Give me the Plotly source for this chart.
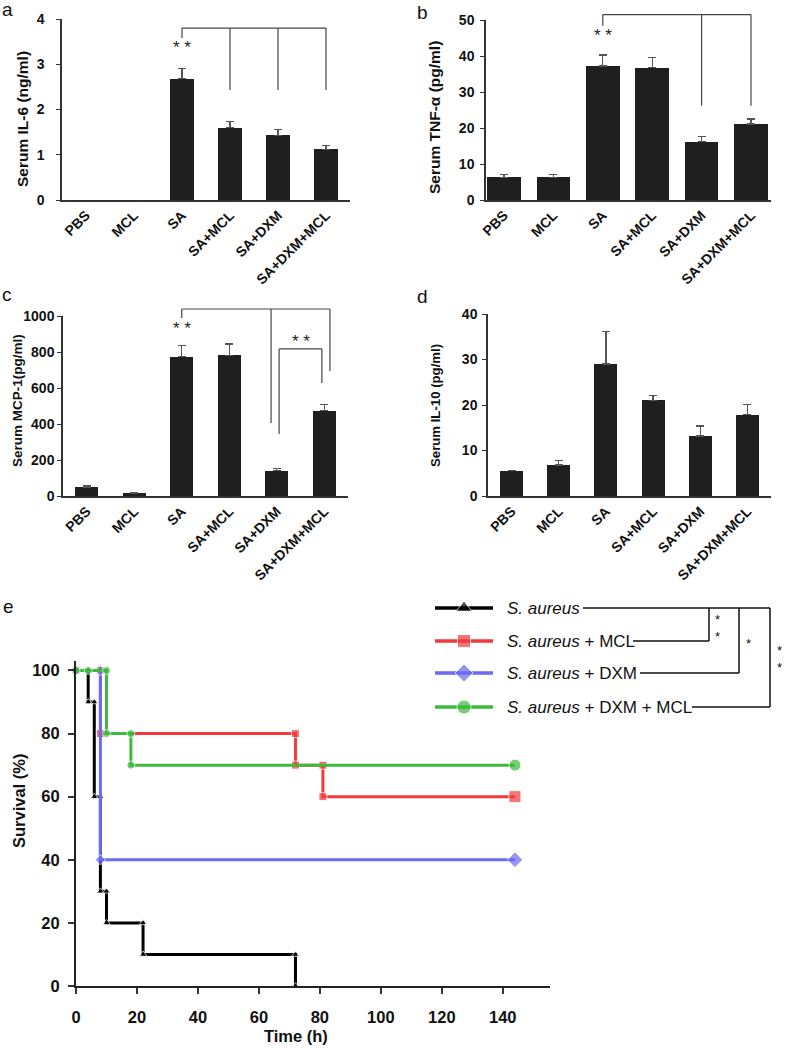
import plotly.graph_objects as go

W, H = 787, 1049
FONT = "Liberation Sans, Arial, sans-serif"

# ---------------- data ----------------
categories = ["PBS", "MCL", "SA", "SA+MCL", "SA+DXM", "SA+DXM+MCL"]

il6_mean = [None, None, 2.68, 1.60, 1.43, 1.12]   # not detected in PBS / MCL
il6_err = [None, None, 0.22, 0.13, 0.13, 0.08]

tnf_mean = [6.3, 6.3, 37.2, 36.8, 16.2, 21.1]
tnf_err = [0.7, 0.7, 3.1, 2.8, 1.4, 1.4]

mcp1_mean = [50, 17, 774, 781, 141, 475]
mcp1_err = [8, None, 61, 63, 13, 33]

il10_mean = [5.6, 6.8, 29.0, 21.0, 13.2, 17.9]
il10_err = [None, 1.0, 7.2, 1.1, 2.2, 2.2]

# Kaplan-Meier step vertices (time h, survival %)
sa_t = [0, 4, 4, 6, 6, 8, 8, 10, 10, 22, 22, 72, 72]
sa_s = [100, 100, 90, 90, 60, 60, 30, 30, 20, 20, 10, 10, 0]
mcl_t = [0, 8, 8, 72, 72, 81, 81, 144]
mcl_s = [100, 100, 80, 80, 70, 70, 60, 60]
dxm_t = [0, 8, 8, 144]
dxm_s = [100, 100, 40, 40]
dxmmcl_t = [0, 4, 10, 10, 18, 18, 144]
dxmmcl_s = [100, 100, 100, 80, 80, 70, 70]

series_names = ["S. aureus", "S. aureus + MCL", "S. aureus + DXM", "S. aureus + DXM + MCL"]
series_colors = ["#000000", "#f23a3a", "#6a6af5", "#3cba3c"]
series_symbols = ["triangle-up", "square", "diamond", "circle"]

# ---------------- layout geometry (pixels) ----------------
panels = {
    "a": dict(l=62, r=350, t=19, b=200, xr=[-0.5, 5.5], yr=[0, 4], dt=1, so=9),
    "b": dict(l=486, r=771, t=20, b=200, xr=[-0.364, 5.405], yr=[0, 50], dt=10, so=3),
    "c": dict(l=63, r=348, t=316, b=496, xr=[-0.5, 5.5], yr=[0, 1000], dt=200, so=0),
    "d": dict(l=488, r=771, t=314, b=496, xr=[-0.5, 5.5], yr=[0, 40], dt=10, so=2),
    "e": dict(l=76, r=550, t=661, b=986, xr=[0, 155.5], yr=[0, 103], dt=20, so=5),
}
LEG = dict(l=420, r=787, t=590, b=725)


def dom(p):
    return [p["l"] / W, p["r"] / W], [1 - p["b"] / H, 1 - p["t"] / H]


def to_paper(p, x, y):
    xp = p["l"] + (x - p["xr"][0]) / (p["xr"][1] - p["xr"][0]) * (p["r"] - p["l"])
    yp = p["b"] - (y - p["yr"][0]) / (p["yr"][1] - p["yr"][0]) * (p["b"] - p["t"])
    return xp / W, 1 - yp / H


def note(x, y, text, size, xanchor="center", **kw):
    d = dict(x=x, y=y, xref="paper", yref="paper", text=text, showarrow=False,
             xanchor=xanchor, yanchor="middle",
             font=dict(family=FONT, size=size, color=kw.pop("color", "#111")))
    d.update(kw)
    return d


fig = go.Figure()
shapes = []
annotations = []

bar_specs = [
    ("a", "", il6_mean, il6_err, 0.50, "Serum IL-6 (ng/ml)", 15.5, 22, 119),
    ("b", "2", tnf_mean, tnf_err, 0.68, "Serum TNF-α (pg/ml)", 15.5, 435, 118),
    ("c", "3", mcp1_mean, mcp1_err, 0.48, "Serum MCP-1(pg/ml)", 13.5, 17, 401),
    ("d", "4", il10_mean, il10_err, 0.49, "Serum IL-10 (pg/ml)", 13.2, 435, 406),
]

for key, n, mean, err, bw, title, tsize, tx, ty in bar_specs:
    p = panels[key]
    fig.add_trace(go.Bar(
        x=categories, y=mean, width=bw,
        marker=dict(color="#1f1f1f", line=dict(width=0)),
        error_y=dict(type="data", symmetric=False, array=err,
                     arrayminus=[0] * len(err), color="#555555",
                     thickness=1.3, width=4),
        xaxis="x" + n, yaxis="y" + n, showlegend=False,
    ))
    xd, yd = dom(p)
    yt = list(range(p["yr"][0], p["yr"][1] + 1, p["dt"]))
    fig.update_layout(**{
        "xaxis" + n: dict(domain=xd, anchor="y" + n, type="category",
                          range=p["xr"], showline=True, linecolor="#333333",
                          linewidth=1.5, ticks="", tickangle=-45, automargin=False,
                          tickfont=dict(family=FONT, size=14, color="#111", weight="bold"),
                          showgrid=False, zeroline=False, fixedrange=True),
        "yaxis" + n: dict(domain=yd, anchor="x" + n, range=p["yr"],
                          tickvals=yt, showline=True, linecolor="#333333",
                          linewidth=1.5, ticks="outside", ticklen=4,
                          tickwidth=1.2, tickcolor="#333333", automargin=False,
                          ticklabelstandoff=p["so"],
                          tickfont=dict(family=FONT, size=14, color="#111", weight="bold"),
                          showgrid=False, zeroline=False, fixedrange=True),
    })
    annotations.append(note(tx / W, 1 - ty / H, "<b>" + title + "</b>", tsize, textangle=-90))

# significance brackets (data coordinates, converted to paper)
brackets = {
    "a": dict(top=3.8, legs=[(2, 3.58), (3, 2.43), (4, 2.43), (5, 2.43)]),
    "b": dict(top=51.5, legs=[(2, 48.4), (4, 26.2), (5, 26.2)]),
    "c": dict(top=1039, legs=[(2, 989), (3.88, 405), (5.12, 694)]),
}
inner_c = dict(top=817, legs=[(4.05, 344), (4.95, 628)])
stars = [("a", 2, 3.36), ("b", 2, 45.8), ("c", 2, 928), ("c", 4.5, 856)]

LINE = dict(color="#444444", width=1.2)


def add_bracket(p, br):
    xs = [lg[0] for lg in br["legs"]]
    x0, y0 = to_paper(p, min(xs), br["top"])
    x1, _ = to_paper(p, max(xs), br["top"])
    shapes.append(dict(type="line", xref="paper", yref="paper", x0=x0, y0=y0, x1=x1, y1=y0, line=LINE))
    for lx, ly in br["legs"]:
        ax, ay = to_paper(p, lx, br["top"])
        bx, by = to_paper(p, lx, ly)
        shapes.append(dict(type="line", xref="paper", yref="paper", x0=ax, y0=ay, x1=bx, y1=by, line=LINE))


for k, br in brackets.items():
    add_bracket(panels[k], br)
add_bracket(panels["c"], inner_c)

for k, sx, sy in stars:
    xp, yp = to_paper(panels[k], sx, sy)
    annotations.append(note(xp, yp, "* *", 17, color="#222"))

# ---------------- survival panel ----------------
pe = panels["e"]
surv = [(sa_t, sa_s), (mcl_t, mcl_s), (dxm_t, dxm_s), (dxmmcl_t, dxmmcl_s)]
msizes = [7, 8, 8, 8]
for (t, s), name, col, sym, ms in zip(surv, series_names, series_colors, series_symbols, msizes):
    sizes = [ms] * (len(t) - 1) + [ms + 4 if s[-1] > 0 else ms]
    fig.add_trace(go.Scatter(
        x=t, y=s, mode="lines+markers", name=name,
        line=dict(color=col, width=3),
        marker=dict(symbol=sym, size=sizes, color=col),
        xaxis="x5", yaxis="y5", showlegend=False, cliponaxis=False,
    ))

xd, yd = dom(pe)
fig.update_layout(
    xaxis5=dict(domain=xd, anchor="y5", range=pe["xr"], tickvals=list(range(0, 141, 20)),
                showline=True, linecolor="#222", linewidth=2, ticks="outside", ticklen=6,
                tickwidth=1.5, tickcolor="#333", ticklabelstandoff=9, automargin=False,
                tickfont=dict(family=FONT, size=16.5, color="#111", weight="bold"),
                showgrid=False, zeroline=False, fixedrange=True),
    yaxis5=dict(domain=yd, anchor="x5", range=pe["yr"], tickvals=list(range(0, 101, 20)),
                showline=True, linecolor="#222", linewidth=2, ticks="outside", ticklen=6,
                tickwidth=1.5, tickcolor="#333", ticklabelstandoff=pe["so"], automargin=False,
                tickfont=dict(family=FONT, size=16.5, color="#111", weight="bold"),
                showgrid=False, zeroline=False, fixedrange=True),
)
annotations.append(note(296 / W, 1 - 1036 / H, "<b>Time (h)</b>", 16.5))
annotations.append(note(19 / W, 1 - 801 / H, "<b>Survival (%)</b>", 16.5, textangle=-90))

# ---------------- custom legend (pixel axis limited to legend area) ----------------
leg_rows = [608, 641, 673, 707]
leg_sizes = [14, 13, 14, 14]
for row, name, col, sym, ms in zip(leg_rows, series_names, series_colors, series_symbols, leg_sizes):
    fig.add_trace(go.Scatter(
        x=[435, 464, 493], y=[row, row, row], mode="lines+markers",
        line=dict(color=col, width=3.5),
        marker=dict(symbol=sym, size=[0, ms, 0], color=col),
        xaxis="x6", yaxis="y6", showlegend=False, hoverinfo="skip",
    ))
    label = "<i>S. aureus</i>" + name[len("S. aureus"):]
    annotations.append(note(505 / W, 1 - row / H, label, 17, xanchor="left"))

fig.update_layout(
    xaxis6=dict(domain=[LEG["l"] / W, LEG["r"] / W], anchor="y6", range=[LEG["l"], LEG["r"]],
                visible=False, fixedrange=True, automargin=False),
    yaxis6=dict(domain=[1 - LEG["b"] / H, 1 - LEG["t"] / H], anchor="x6",
                range=[LEG["b"], LEG["t"]], visible=False, fixedrange=True, automargin=False),
)

# legend significance brackets (pixel positions)
LL = dict(color="#111111", width=1.5)
legend_lines = [
    (583, 608, 770, 608),
    (709, 608, 709, 641), (633, 641, 709, 641),
    (739, 608, 739, 673), (640, 673, 739, 673),
    (770, 608, 770, 707), (692, 707, 770, 707),
]
for x0, y0, x1, y1 in legend_lines:
    shapes.append(dict(type="line", xref="paper", yref="paper",
                       x0=x0 / W, y0=1 - y0 / H, x1=x1 / W, y1=1 - y1 / H, line=LL))
for sx, sy, txt in [(717, 628, "*<br>*"), (748, 643, "*"), (779, 659, "*<br>*")]:
    annotations.append(note(sx / W, 1 - sy / H, txt, 13))

# panel letters
for letter, lx, ly in [("a", 7, 9), ("b", 422, 13), ("c", 7, 294), ("d", 422, 296), ("e", 8, 606)]:
    annotations.append(note(lx / W, 1 - ly / H, letter, 19))

fig.update_layout(
    width=W, height=H, autosize=False,
    margin=dict(l=0, r=0, t=0, b=0),
    paper_bgcolor="white", plot_bgcolor="rgba(0,0,0,0)",
    shapes=shapes, annotations=annotations,
    font=dict(family=FONT),
    bargap=0,
)

fig.write_html("out.html", config={"displayModeBar": False},
               post_script="document.body.style.margin='0';")
